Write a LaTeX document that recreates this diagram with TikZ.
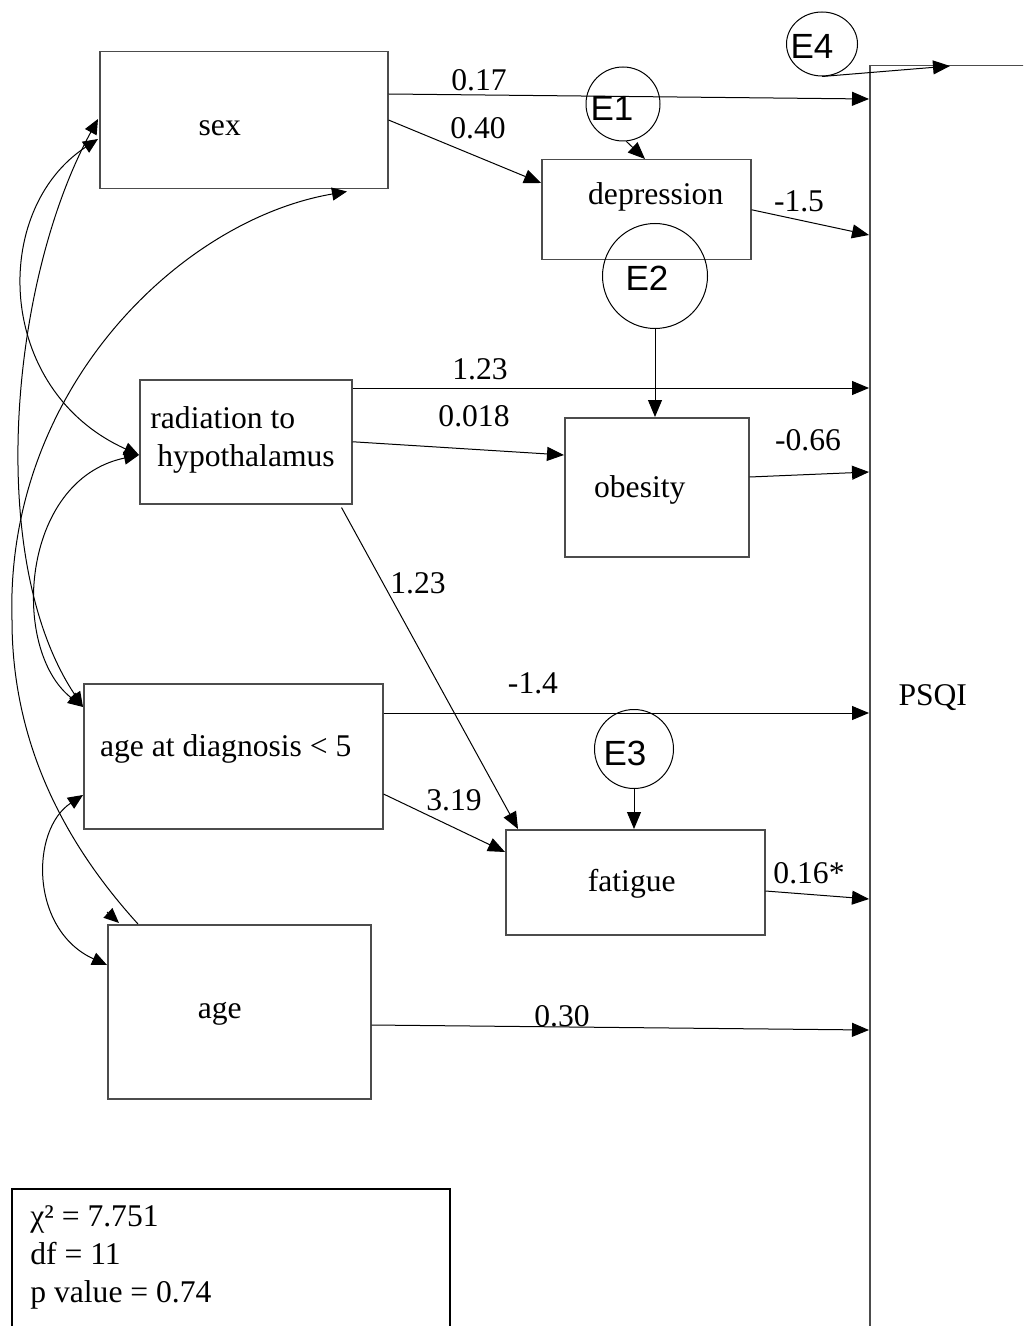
\documentclass[tikz,border=0pt]{standalone}
\usepackage{fontspec}
\setmainfont{Liberation Serif}
\newfontfamily\errfont{Liberation Sans}
\usetikzlibrary{arrows.meta,calc,shapes.geometric}

\begin{document}
\begin{tikzpicture}[x=0.5pt,y=-0.5pt,
  font=\fontsize{15.8}{19}\selectfont,
  every label/.style={inner sep=0pt},
  var/.style={draw=black!70, line width=0.75pt, rectangle, inner sep=0pt, anchor=north west},
  err/.style={draw, circle, line width=0.5pt, inner sep=0pt},
  errlbl/.style={font=\errfont\fontsize{17.5}{20}\selectfont},
  effect/.style={draw, line width=0.5pt, -{Triangle[length=8.5pt,width=7pt]}},
  cov/.style={draw, line width=0.5pt, {Triangle[length=7.5pt,width=6.5pt]}-{Triangle[length=7.5pt,width=6.5pt]}},
  covstart/.style={draw, line width=0.5pt, {Triangle[length=7.5pt,width=6.5pt]}-},
  covend/.style={draw, line width=0.5pt, -{Triangle[length=7.5pt,width=6.5pt]}},
  coef/.style={inner sep=0pt}
]
\useasboundingbox (0,0) rectangle (1023,1326);
\clip (0,0) rectangle (1023,1326);

% outcome box (runs off the page to the right and bottom)
\node[var, minimum width=100pt, minimum height=650pt,
      label={[xshift=-18.5pt,yshift=9pt]center:PSQI}] (psqi) at (869,65) {};

% observed variables
\node[var, minimum width=144pt, minimum height=68.5pt,
      label={[xshift=-12pt,yshift=-3.75pt]center:sex}] (sex) at (99,51) {};
\node[var, minimum width=104.5pt, minimum height=50pt,
      label={[xshift=4.75pt,yshift=6.5pt]center:depression}] (dep) at (541,159) {};
\node[var, minimum width=106pt, minimum height=62pt,
      label={[anchor=west,xshift=5.5pt,yshift=1pt,align=left]west:{radiation to\\\hspace*{3.5pt}hypothalamus}}] (rad) at (139,379) {};
\node[var, minimum width=92pt, minimum height=69.5pt,
      label={[xshift=-8.5pt,yshift=-1.25pt]center:obesity}] (obe) at (564,417) {};
\node[var, minimum width=149.5pt, minimum height=72.5pt,
      label={[xshift=-3.75pt,yshift=3.75pt]center:{age at diagnosis < 5}}] (agd) at (83,683) {};
\node[var, minimum width=129.5pt, minimum height=52.5pt,
      label={[xshift=-1.75pt,yshift=-0.75pt]center:fatigue}] (fat) at (505,829) {};
\node[var, minimum width=131.5pt, minimum height=87pt,
      label={[xshift=-9.75pt,yshift=-1pt]center:age}] (age) at (107,924) {};

% error terms
\node[err, minimum size=37pt,
      label={[errlbl,xshift=-5.5pt,yshift=-2pt]center:E1}] (E1) at (623,104) {};
\node[err, minimum size=52.5pt,
      label={[errlbl,xshift=-4pt,yshift=-1pt]center:E2}] (E2) at (655,276) {};
\node[err, minimum size=39.5pt,
      label={[errlbl,xshift=-4.5pt,yshift=-2pt]center:E3}] (E3) at (634,749) {};
\node[draw, ellipse, line width=0.5pt, inner sep=0pt, minimum width=35.5pt, minimum height=32pt,
      label={[errlbl,xshift=-5pt,yshift=-1pt]center:E4}] (E4) at (822,44) {};

% fit statistics
\node[draw, line width=1pt, anchor=north west, inner sep=0pt, minimum width=219pt, minimum height=80pt,
      label={[anchor=north west,align=left,xshift=9.5pt,yshift=-8.8pt]north west:{χ² = 7.751\\df = 11\\p value = 0.74}}] (fitstats) at (11,1188) {};

% direct effects
\draw[effect] ($(sex.north east)+(0,43)$) -- ($(psqi.north west)+(0,34)$);
\draw[effect] ($(sex.north east)+(0,69)$) -- ($(dep.north west)+(0,24)$);
\draw[effect] (dep.east) -- ($(psqi.north west)+(0,170)$);
\draw[effect] ($(rad.north east)+(0,9)$) -- ($(psqi.north west)+(0,323)$);
\draw[effect] (rad.east) -- ($(obe.north west)+(0,38)$);
\draw[effect] ($(obe.north east)+(0,60)$) -- ($(psqi.north west)+(0,407)$);
\draw[effect] ($(rad.south east)+(-11,3)$) -- ($(fat.north west)+(13,0)$);
\draw[effect] ($(agd.north east)+(0,30)$) -- ($(psqi.north west)+(0,648)$);
\draw[effect] ($(agd.north east)+(0,111)$) -- ($(fat.north west)+(0,23)$);
\draw[effect] ($(fat.north east)+(0,62)$) -- ($(psqi.north west)+(0,834)$);
\draw[effect] ($(age.north east)+(0,101)$) -- ($(psqi.north west)+(0,965)$);

% residual paths
\draw[effect] (E1.-85) -- ($(dep.north west)+(104,0)$);
\draw[effect] (E2.south) -- ($(obe.north west)+(91,0)$);
\draw[effect] (E3.south) -- ($(fat.north west)+(129,0)$);
\draw[effect] (E4.south) -- ($(psqi.north west)+(81,1)$);

% path coefficients
\node[coef] (w1) at (479,80) {0.17};
\node[coef] (w2) at (478,128) {0.40};
\node[coef] (w3) at (799,201) {-1.5};
\node[coef] (w4) at (480,369) {1.23};
\node[coef] (w5) at (474,416) {0.018};
\node[coef] (w6) at (808,440) {-0.66};
\node[coef] (w7) at (418,583) {1.23};
\node[coef] (w8) at (533,683) {-1.4};
\node[coef] (w9) at (454,800) {3.19};
\node[coef] (w10) at (809,873) {0.16*};
\node[coef] (w11) at (562,1016) {0.30};

% covariances among the exogenous variables
\draw[cov] ($(sex.north west)+(-1,88)$) .. controls (-10,210) and (-5,390) .. ($(rad.north west)+(0,76)$);
\draw[cov] ($(sex.north west)+(-1,68)$) .. controls (10,280) and (-15,560) .. ($(agd.north west)+(0,24)$);
\draw[cov] ($(rad.north west)+(0,76)$) .. controls (20,480) and (10,650) .. ($(agd.north west)+(0,24)$);
\draw[cov] ($(agd.north west)+(0,112)$) .. controls (30,830) and (30,930) .. ($(age.north west)+(0,41)$);
\draw[covstart] ($(sex.south west)+(248,2)$) .. controls (180,220) and (5,390) .. (12,620)
                .. controls (12,760) and (80,860) .. ($(age.north west)+(31,0)$);
\draw[covend] ($(age.north west)+(0,-12)$) -- ($(age.north west)+(12,-1)$);
\end{tikzpicture}
\end{document}
